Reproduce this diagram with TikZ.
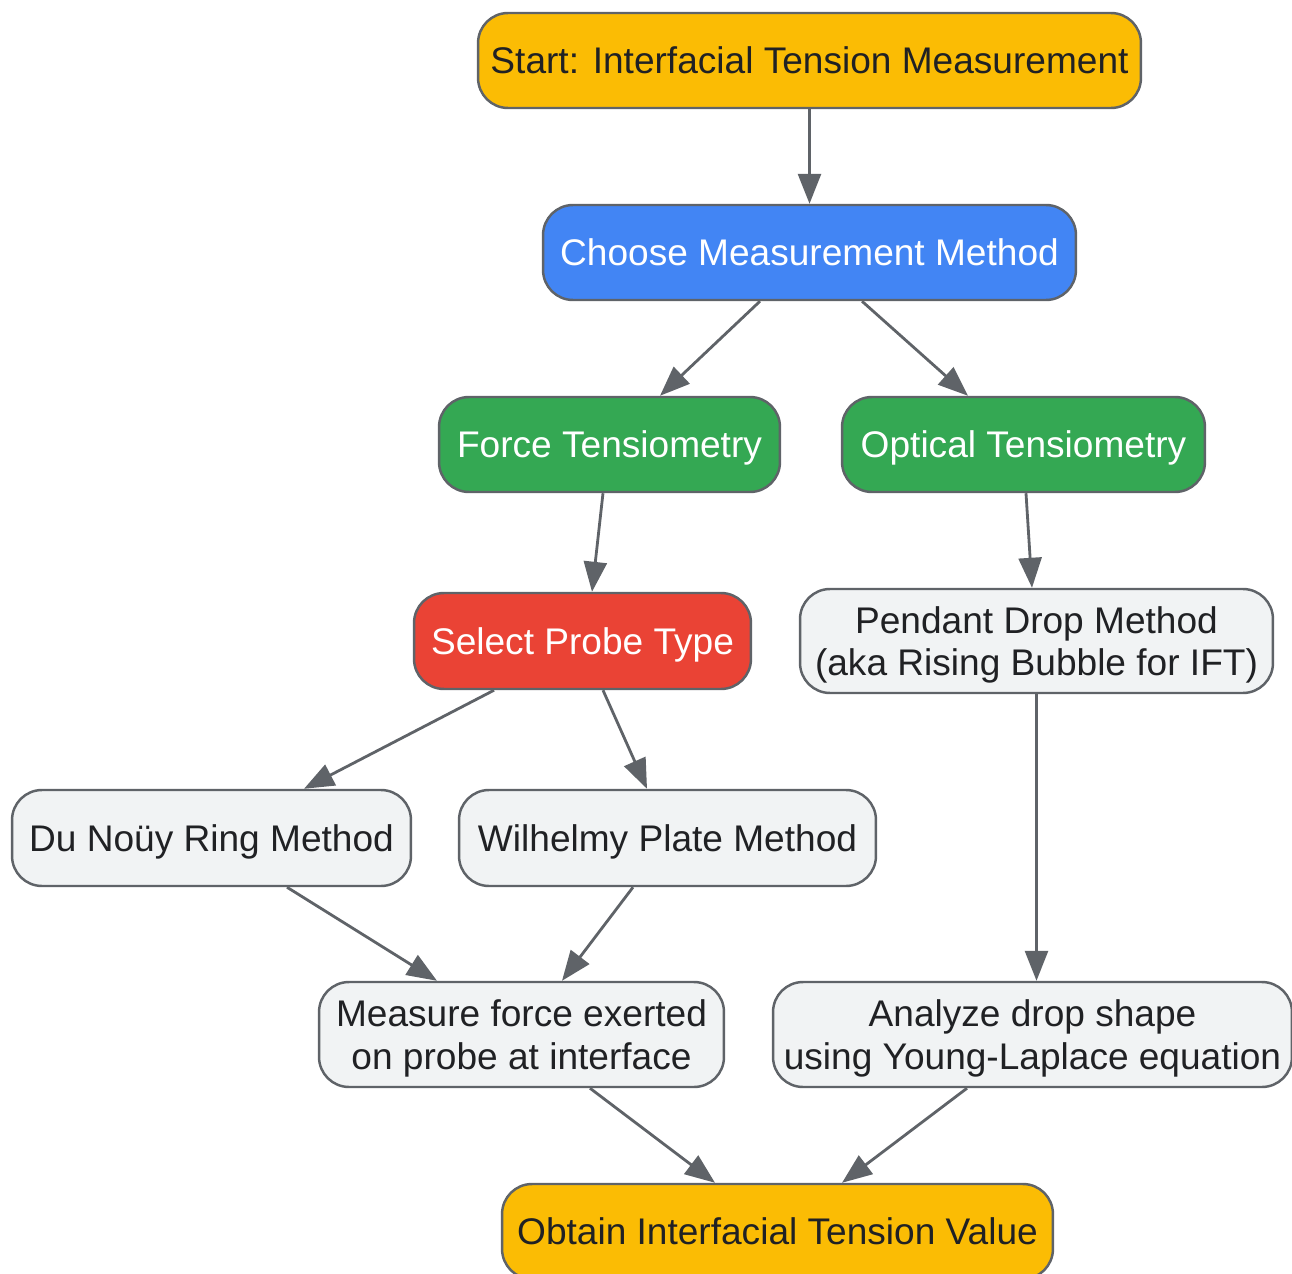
\documentclass[tikz,border=0pt]{standalone}
\usepackage{fontspec}
\setmainfont{Liberation Sans}
\usetikzlibrary{arrows.meta,calc}

\definecolor{gborder}{HTML}{5F6368}
\definecolor{gtext}{HTML}{202124}
\definecolor{gorange}{HTML}{FBBC04}
\definecolor{gblue}{HTML}{4285F4}
\definecolor{ggreen}{HTML}{34A853}
\definecolor{gred}{HTML}{EA4335}
\definecolor{ggray}{HTML}{F1F3F4}

\tikzset{
  box/.style={draw=gborder, line width=1.4pt, rounded corners=0.6cm,
    align=center, font=\fontsize{21.1}{24}\selectfont, inner sep=0pt, text depth=0pt},
  terminal/.style={box, fill=gorange, text=gtext},
  choice/.style={box, fill=gblue, text=white},
  branch/.style={box, fill=ggreen, text=white},
  probe/.style={box, fill=gred, text=white},
  stepbox/.style={box, fill=ggray, text=gtext},
  link/.style={draw=gborder, line width=1.6pt,
    -{Triangle[length=0.6cm, width=0.46cm]}}
}

\begin{document}
\begin{tikzpicture}[x=0.02cm, y=-0.02cm]
    \useasboundingbox (0,0) rectangle (1292,1274);

    % top of the chart
    \node [terminal, minimum width=13.26cm, minimum height=1.9cm] (start) at (809.5,60.5) {Start: Interfacial Tension Measurement};
    \node [choice, minimum width=10.66cm, minimum height=1.9cm] (choose) at (809.5,252.5) {Choose Measurement Method};

    % the two families
    \node [branch, minimum width=6.82cm, minimum height=1.9cm] (force) at (609.5,444.5) {Force Tensiometry};
    \node [branch, minimum width=7.26cm, minimum height=1.9cm] (optical) at (1023.5,444.5) {Optical Tensiometry};

    \node [probe, minimum width=6.74cm, minimum height=1.92cm] (select) at (582.5,641) {Select Probe Type};
    \node [stepbox, minimum width=9.46cm, minimum height=2.08cm] (pendant) at (1036.5,641) {Pendant Drop Method\\(aka Rising Bubble for IFT)};

    \node [stepbox, minimum width=7.98cm, minimum height=1.92cm] (ring) at (211.5,838) {Du Noüy Ring Method};
    \node [stepbox, minimum width=8.34cm, minimum height=1.92cm] (plate) at (667.5,838) {Wilhelmy Plate Method};

    \node [stepbox, minimum width=8.1cm, minimum height=2.1cm] (measure) at (521.5,1034.5) {Measure force exerted\\on probe at interface};
    \node [stepbox, minimum width=10.38cm, minimum height=2.1cm] (analyze) at (1032.5,1034.5) {Analyze drop shape\\using Young-Laplace equation};

    \node [terminal, minimum width=11.02cm, minimum height=1.9cm] (obtain) at (777.5,1231.5) {Obtain Interfacial Tension Value};

    % connectors
    \draw [link] (start.south) -- (choose.north);
    \draw [link] ($(choose.south)+(-49.5,0)$) -- ($(force.north)+(50.5,0)$);
    \draw [link] ($(choose.south)+(52.5,0)$) -- ($(optical.north)+(-55.5,0)$);
    \draw [link] ($(force.south)+(-6.5,0)$) -- ($(select.north)+(9.5,0)$);
    \draw [link] ($(optical.south)+(2.5,0)$) -- ($(pendant.north)+(-4.5,0)$);
    \draw [link] ($(select.south)+(-88.5,0)$) -- ($(ring.north)+(92.5,0)$);
    \draw [link] ($(select.south)+(20.5,0)$) -- ($(plate.north)+(-20.5,0)$);
    \draw [link] (pendant.south) -- (pendant.south |- analyze.north);
    \draw [link] ($(ring.south)+(75.5,0)$) -- ($(measure.north)+(-84.5,0)$);
    \draw [link] ($(plate.south)+(-34.5,0)$) -- ($(measure.north)+(40.5,0)$);
    \draw [link] ($(measure.south)+(68.5,0)$) -- ($(obtain.north)+(-62.5,0)$);
    \draw [link] ($(analyze.south)+(-65.5,0)$) -- ($(obtain.north)+(64.5,0)$);
\end{tikzpicture}
\end{document}
